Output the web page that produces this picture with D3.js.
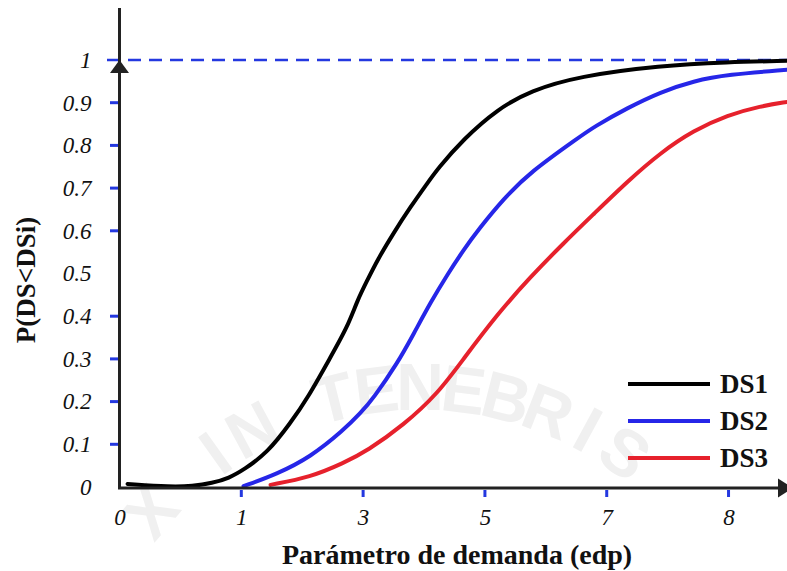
<!DOCTYPE html>
<html>
<head>
<meta charset="utf-8">
<script src="https://cdn.jsdelivr.net/npm/d3@7/dist/d3.min.js"></script>
<style>
  html, body { margin: 0; padding: 0; background: #fff; }
  svg { display: block; }
</style>
</head>
<body>
<svg id="chart" width="787" height="571"></svg>
<script>
// Tick labels along the demand-parameter axis (evenly spaced positions)
const xTickLabels = ["0", "1", "3", "5", "7", "8"];
const xMarkedTicks = [1, 2, 3, 4, 5];

// Probability axis
const yTickValues = [0, 0.1, 0.2, 0.3, 0.4, 0.5, 0.6, 0.7, 0.8, 0.9, 1];
const yTickLabels = ["0", "0.1", "0.2", "0.3", "0.4", "0.5", "0.6", "0.7", "0.8", "0.9", "1"];
const yMarkedTicks = [0.1, 0.2, 0.3, 0.4, 0.6, 0.7, 0.8, 0.9];

// Fragility curves: position along the x axis and P(DS<DSi)
const ds1Pos = [0.066, 0.42, 0.6, 0.76, 0.9, 1.018, 1.215, 1.404, 1.544, 1.732, 1.872, 1.954, 2.036, 2.118, 2.25, 2.389, 2.529, 2.611, 2.824, 3.103, 3.374, 3.768, 4.44, 4.99, 5.48];
const ds1Val = [0.007, 0.0, 0.002, 0.009, 0.021, 0.04, 0.08, 0.15, 0.208, 0.304, 0.375, 0.438, 0.485, 0.532, 0.595, 0.656, 0.712, 0.745, 0.815, 0.885, 0.928, 0.962, 0.987, 0.995, 0.998];

const ds2Pos = [1.018, 1.29, 1.568, 1.839, 1.979, 2.085, 2.282, 2.414, 2.553, 2.693, 2.824, 2.947, 3.153, 3.374, 3.768, 3.892, 4.171, 4.442, 4.713, 4.992, 5.484];
const ds2Val = [0.002, 0.03, 0.07, 0.133, 0.173, 0.208, 0.29, 0.358, 0.432, 0.498, 0.555, 0.603, 0.675, 0.738, 0.818, 0.843, 0.888, 0.925, 0.951, 0.966, 0.977];

const ds3Pos = [1.24, 1.568, 1.839, 2.036, 2.332, 2.611, 2.824, 3.103, 3.374, 3.645, 3.892, 4.171, 4.442, 4.713, 4.992, 5.263, 5.484];
const ds3Val = [0.005, 0.023, 0.056, 0.085, 0.145, 0.218, 0.3, 0.405, 0.492, 0.571, 0.639, 0.716, 0.783, 0.835, 0.871, 0.892, 0.902];

const seriesNames = ["DS1", "DS2", "DS3"];
const seriesColors = ["#000000", "#2626e8", "#e6212c"];

const SERIF = "'Liberation Serif', 'Times New Roman', serif";
const svg = d3.select("#chart");
const W = 787, H = 571;

const x = d3.scaleLinear().domain([0, 5.48]).range([119.5, 787]);
const y = d3.scaleLinear().domain([0, 1]).range([487, 60]);

// Faint seal lettering in the background, one glyph at a time round an arc;
// glyphs that fall below the lower edge are left out
const sealText = "LUX IN TENEBRIS".split("");
const cx = 420, cy = 740, r = 330, midAngle = 104.2, step = 7.1;
const sealGlyphs = sealText.map((c, i) => {
  const a = midAngle + ((sealText.length - 1) / 2 - i) * step;
  const rad = a * Math.PI / 180;
  return { c, a, gx: cx + r * Math.cos(rad), gy: cy - r * Math.sin(rad) };
}).filter(g => g.c !== " " && g.gy < H - 20);

svg.append("g").selectAll("text")
  .data(sealGlyphs)
  .join("text")
  .attr("transform", g => `translate(${g.gx},${g.gy}) rotate(${90 - g.a})`)
  .attr("text-anchor", "middle")
  .style("font-family", "'Liberation Sans', Arial, sans-serif")
  .style("font-weight", "bold")
  .style("font-size", "66px")
  .attr("fill", "#f0f0f0")
  .text(g => g.c);

// Reference line at probability 1
svg.append("line")
  .attr("x1", 107).attr("x2", W)
  .attr("y1", y(1)).attr("y2", y(1))
  .attr("stroke", "#2438e0").attr("stroke-width", 2.5)
  .attr("stroke-dasharray", "13,8");

// Curves
const line = d3.line()
  .x(d => x(d[0]))
  .y(d => y(d[1]))
  .curve(d3.curveBasis);

const series = [
  d3.zip(ds1Pos, ds1Val),
  d3.zip(ds2Pos, ds2Val),
  d3.zip(ds3Pos, ds3Val)
];

svg.append("clipPath").attr("id", "plotClip")
  .append("rect").attr("x", 119).attr("y", 0).attr("width", W - 119).attr("height", 487);

svg.append("g").attr("clip-path", "url(#plotClip)")
  .selectAll("path")
  .data(series)
  .join("path")
  .attr("d", line)
  .attr("fill", "none")
  .attr("stroke", (d, i) => seriesColors[i])
  .attr("stroke-width", 4)
  .attr("stroke-linecap", "round");

// Tick labels via d3 axes
const xAxis = d3.axisBottom(x)
  .tickValues(d3.range(xTickLabels.length))
  .tickFormat(i => xTickLabels[i])
  .tickSize(0).tickPadding(21);
const gx = svg.append("g").attr("transform", "translate(0,488)").call(xAxis);
gx.select(".domain").remove();
gx.selectAll("text")
  .style("font-family", SERIF)
  .style("font-style", "italic")
  .style("font-size", "23px")
  .attr("fill", "#111");

const yAxis = d3.axisLeft(y)
  .tickValues(yTickValues)
  .tickFormat((d, i) => yTickLabels[i])
  .tickSize(0).tickPadding(28);
const gy = svg.append("g").attr("transform", "translate(119.5,0)").call(yAxis);
gy.select(".domain").remove();
gy.selectAll("text")
  .style("font-family", SERIF)
  .style("font-style", "italic")
  .style("font-size", "23px")
  .attr("fill", "#111");

// Blue tick marks
svg.append("g").selectAll("line")
  .data(yMarkedTicks)
  .join("line")
  .attr("x1", 110).attr("x2", 118)
  .attr("y1", d => y(d)).attr("y2", d => y(d))
  .attr("stroke", "#2438e0").attr("stroke-width", 3);

svg.append("g").selectAll("line")
  .data(xMarkedTicks)
  .join("line")
  .attr("x1", d => x(d)).attr("x2", d => x(d))
  .attr("y1", 490).attr("y2", 497)
  .attr("stroke", "#2438e0").attr("stroke-width", 3);

// Axis lines with arrowheads
svg.append("line")
  .attr("x1", 119.5).attr("x2", 119.5).attr("y1", 8).attr("y2", 489)
  .attr("stroke", "#222").attr("stroke-width", 3);
svg.append("line")
  .attr("x1", 118).attr("x2", 780).attr("y1", 488).attr("y2", 488)
  .attr("stroke", "#222").attr("stroke-width", 3);
svg.append("path")
  .attr("d", `M 119.5 ${y(1)} L 129 ${y(1) + 13} L 110 ${y(1) + 13} Z`)
  .attr("fill", "#222");
svg.append("path")
  .attr("d", "M 778 478.5 L 793 488 L 778 497.5 Z")
  .attr("fill", "#222");

// Axis titles
svg.append("text")
  .attr("x", 457).attr("y", 564)
  .attr("text-anchor", "middle")
  .style("font-family", SERIF)
  .style("font-weight", "bold")
  .style("font-size", "28px")
  .attr("fill", "#111")
  .text("Parámetro de demanda (edp)");

svg.append("text")
  .attr("transform", "translate(35,280) rotate(-90)")
  .attr("text-anchor", "middle")
  .style("font-family", SERIF)
  .style("font-weight", "bold")
  .style("font-size", "27px")
  .attr("fill", "#111")
  .text("P(DS<DSi)");

// Legend
const legend = svg.append("g").selectAll("g")
  .data(seriesNames)
  .join("g")
  .attr("transform", (d, i) => `translate(628,${384 + i * 37})`);
legend.append("line")
  .attr("x1", 0).attr("x2", 82).attr("y1", 0).attr("y2", 0)
  .attr("stroke", (d, i) => seriesColors[i]).attr("stroke-width", 4);
legend.append("text")
  .attr("x", 92).attr("y", 9)
  .style("font-family", SERIF)
  .style("font-weight", "bold")
  .style("font-size", "27px")
  .attr("fill", "#111")
  .text(d => d);
</script>
</body>
</html>
